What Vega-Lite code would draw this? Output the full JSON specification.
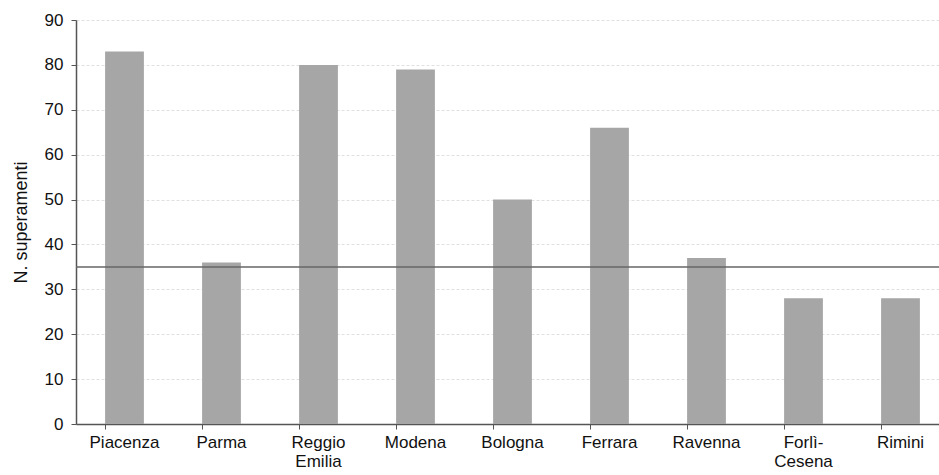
{
  "$schema": "https://vega.github.io/schema/vega-lite/v6.json",
  "width": 863,
  "height": 404,
  "autosize": "none",
  "padding": {"left": 76, "top": 20, "right": 0, "bottom": 51},
  "background": "white",
  "config": {
    "view": {"stroke": null},
    "font": "Liberation Sans"
  },
  "layer": [
    {
      "data": {"values": [
        {"provincia": "Piacenza", "n": 83},
        {"provincia": "Parma", "n": 36},
        {"provincia": "Reggio Emilia", "n": 80},
        {"provincia": "Modena", "n": 79},
        {"provincia": "Bologna", "n": 50},
        {"provincia": "Ferrara", "n": 66},
        {"provincia": "Ravenna", "n": 37},
        {"provincia": "Forlì-Cesena", "n": 28},
        {"provincia": "Rimini", "n": 28}
      ]},
      "mark": {"type": "bar", "color": "#a6a6a6"},
      "encoding": {
        "x": {
          "field": "provincia", "type": "nominal", "sort": null,
          "scale": {"paddingInner": 0.6, "paddingOuter": 0.3, "range": [0, 873]},
          "axis": {
            "title": null, "labelAngle": 0, "labelFontSize": 17, "labelColor": "#111",
            "labelExpr": "datum.value == 'Forlì-Cesena' ? ['Forlì-','Cesena'] : split(datum.value, ' ')",
            "bandPosition": 0, "tickSize": 5, "tickColor": "#555", "domainColor": "#555", "domainWidth": 1.5,
            "labelPadding": 5, "labelLineHeight": 19
          }
        },
        "y": {
          "field": "n", "type": "quantitative",
          "scale": {"domain": [0, 90]},
          "axis": {
            "title": "N. superamenti", "titleFontSize": 18, "titleFontWeight": "normal", "titleColor": "#111",
            "titlePadding": 14,
            "values": [0, 10, 20, 30, 40, 50, 60, 70, 80, 90],
            "labelFontSize": 17, "labelColor": "#111", "labelPadding": 8,
            "tickSize": 5, "tickColor": "#555", "domainColor": "#555", "domainWidth": 1.5,
            "grid": true, "gridColor": "#e0e0e0", "gridDash": [3, 2]
          }
        }
      }
    },
    {
      "data": {"values": [{"soglia": 35}]},
      "mark": {"type": "rule", "color": "#666", "strokeWidth": 1.5},
      "encoding": {"y": {"field": "soglia", "type": "quantitative"}}
    }
  ]
}
